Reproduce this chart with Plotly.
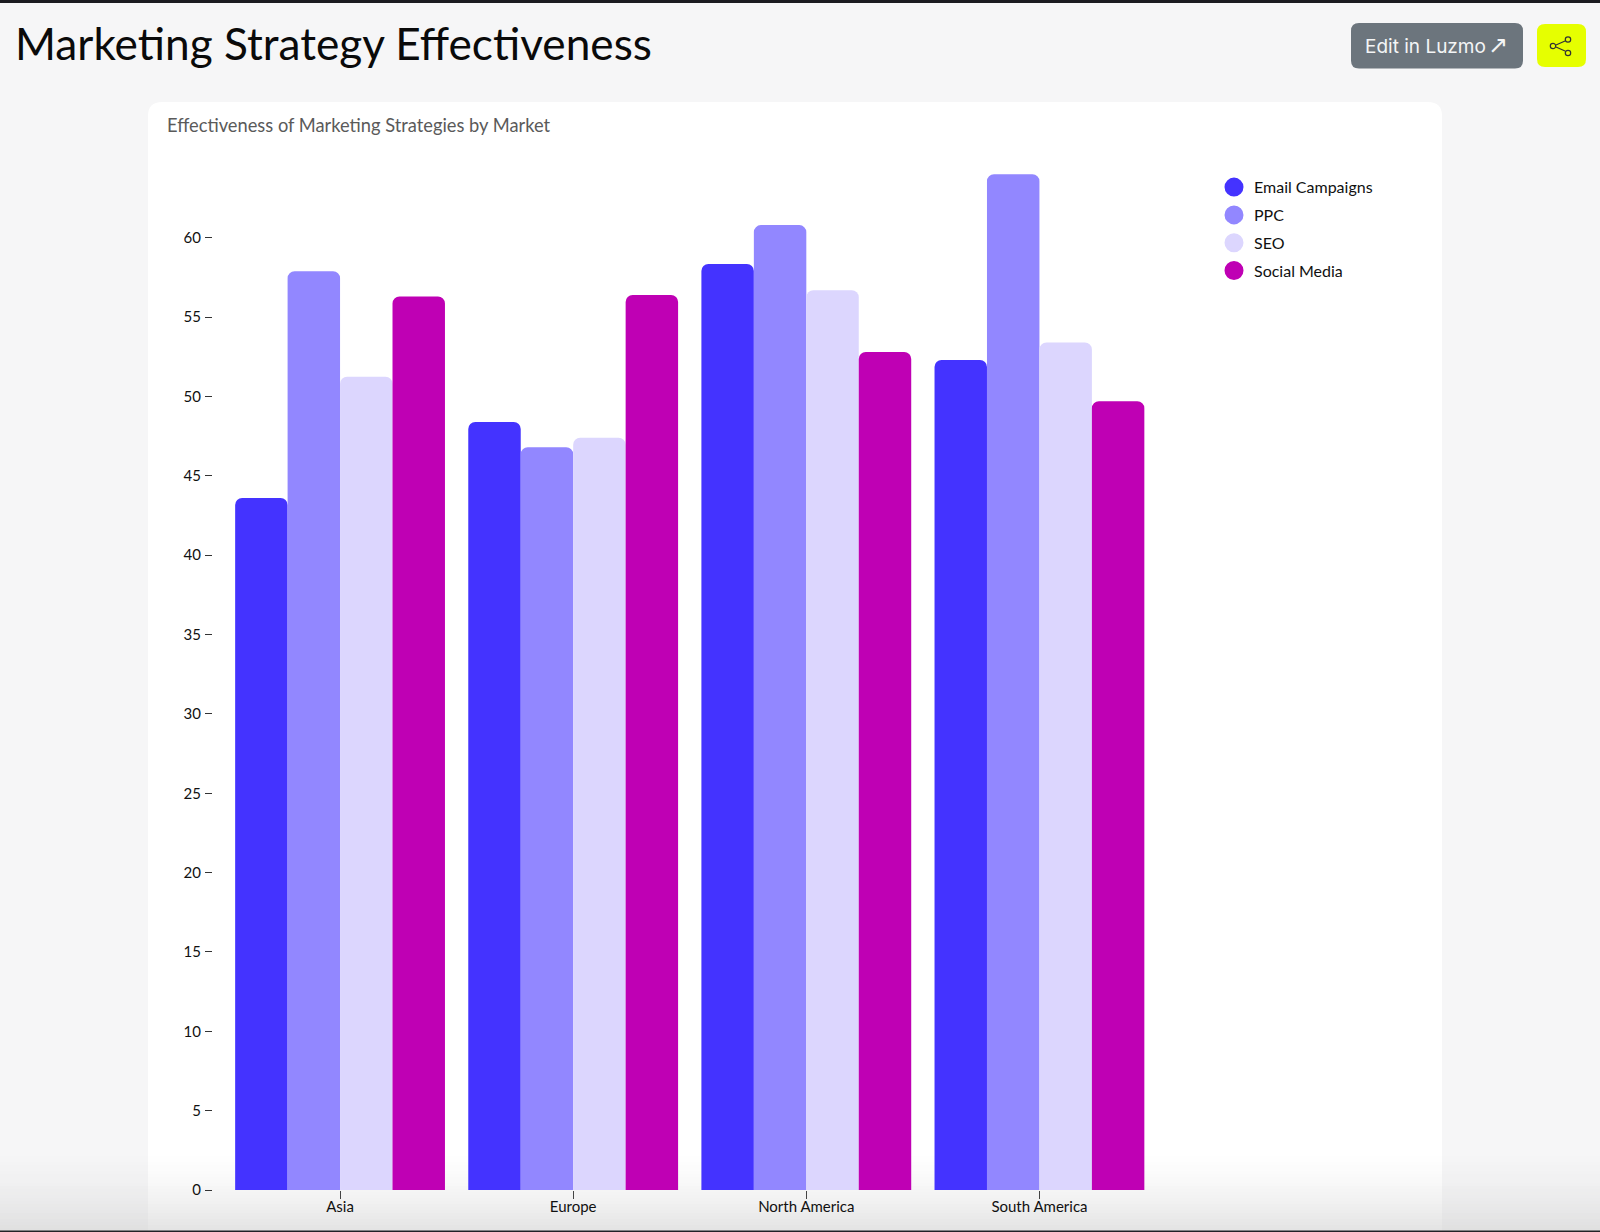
import plotly.graph_objects as go

# Chart data
markets = ["Asia", "Europe", "North America", "South America"]
email_campaigns = [43.6, 48.4, 58.35, 52.3]
ppc = [57.9, 46.8, 60.8, 64.0]
seo = [51.25, 47.4, 56.7, 53.4]
social_media = [56.3, 56.4, 52.8, 49.7]
y_ticks = list(range(0, 61, 5))

series_names = ["Email Campaigns", "PPC", "SEO", "Social Media"]
series_values = [email_campaigns, ppc, seo, social_media]
series_colors = ["#4433ff", "#9287ff", "#dcd6fe", "#bf00b4"]

WIDTH, HEIGHT = 1600, 1232


def px(x):
    return x / WIDTH


def py(y):
    return 1 - y / HEIGHT


def rounded_box(x0, y0, x1, y1, r, color, layer="below"):
    """Rounded rectangle given in page pixels."""
    path = (
        f"M{px(x0 + r)},{py(y0)} L{px(x1 - r)},{py(y0)} Q{px(x1)},{py(y0)} {px(x1)},{py(y0 + r)} "
        f"L{px(x1)},{py(y1 - r)} Q{px(x1)},{py(y1)} {px(x1 - r)},{py(y1)} "
        f"L{px(x0 + r)},{py(y1)} Q{px(x0)},{py(y1)} {px(x0)},{py(y1 - r)} "
        f"L{px(x0)},{py(y0 + r)} Q{px(x0)},{py(y0)} {px(x0 + r)},{py(y0)} Z"
    )
    return dict(type="path", xref="paper", yref="paper", path=path,
                fillcolor=color, line_width=0, layer=layer)


def page_rect(x0, y0, x1, y1, color, layer="below"):
    return dict(type="rect", xref="paper", yref="paper", x0=px(x0), x1=px(x1),
                y0=py(y1), y1=py(y0), fillcolor=color, line_width=0, layer=layer)


fig = go.Figure()

for name, values, color in zip(series_names, series_values, series_colors):
    fig.add_trace(go.Bar(name=name, x=markets, y=values, marker_color=color,
                         marker_line_width=0, showlegend=False, hoverinfo="x+y+name"))

# Round legend swatches
for name, color in zip(series_names, series_colors):
    fig.add_trace(go.Scatter(name=name, x=[None], y=[None], mode="markers", legendgroup=name,
                             marker=dict(symbol="circle", size=16, color=color,
                                         line=dict(color=color, width=3))))

shapes = [
    page_rect(0, 0, WIDTH, 3, "#1b1b20"),
    # Card
    rounded_box(148, 102, 1442, 1300, 14, "#ffffff"),
    # Action buttons
    rounded_box(1351, 23, 1523, 68.5, 8, "#6c757d"),
    rounded_box(1537, 24, 1586, 67, 8, "#e6ff00"),
]

# Share icon
for cx, cy in [(1568, 39.5), (1553, 46), (1568, 53)]:
    shapes.append(dict(type="circle", xref="paper", yref="paper",
                       x0=px(cx - 2.7), x1=px(cx + 2.7), y0=py(cy + 2.7), y1=py(cy - 2.7),
                       fillcolor="#e6ff00", line=dict(color="#333333", width=1.2)))
for cy in (41, 51):
    shapes.append(dict(type="line", xref="paper", yref="paper",
                       x0=px(1556), x1=px(1565), y0=py(46 + (cy - 46) * 0.2), y1=py(cy),
                       line=dict(color="#333333", width=1.2)))

# Fade along the bottom edge, behind the bars
fade_top, fade_bottom, steps = 1150, 1231, 27
step_h = (fade_bottom - fade_top) / steps
for i in range(steps):
    alpha = 0.55 * ((i + 1) / steps) ** 1.6
    shapes.append(page_rect(0, fade_top + i * step_h, WIDTH, fade_top + (i + 1) * step_h,
                            f"rgba(205,205,205,{alpha:.3f})"))
shapes.append(page_rect(0, 1230.6, WIDTH, HEIGHT, "#222226", layer="above"))

annotations = [
    dict(text="Marketing Strategy Effectiveness", x=px(12.5), y=py(42.5), xref="paper", yref="paper",
         xanchor="left", yanchor="middle", showarrow=False,
         font=dict(family="Lato", size=44.2, color="#0a0a0a")),
    dict(text="Effectiveness of Marketing Strategies by Market", x=px(165), y=py(125.5),
         xref="paper", yref="paper", xanchor="left", yanchor="middle", showarrow=False,
         font=dict(family="Lato", size=18.3, color="#5a5a5a")),
    dict(text="Edit in Luzmo", x=px(1363), y=py(46.5), xref="paper", yref="paper",
         xanchor="left", yanchor="middle", showarrow=False,
         font=dict(family="Inter", size=19, color="#f4f5f6")),
    dict(text="↗", x=px(1498), y=py(45), xref="paper", yref="paper",
         xanchor="center", yanchor="middle", showarrow=False,
         font=dict(family="DejaVu Sans", size=24, color="#f4f5f6")),
]

fig.update_layout(
    width=WIDTH,
    height=HEIGHT,
    margin=dict(l=0, r=0, t=0, b=0, autoexpand=False),
    paper_bgcolor="#f6f6f7",
    plot_bgcolor="rgba(0,0,0,0)",
    barmode="group",
    bargap=0.1,
    bargroupgap=0,
    barcornerradius=7,
    shapes=shapes,
    annotations=annotations,
    font=dict(family="Lato", size=15, color="#111111"),
    xaxis=dict(
        domain=[px(213), px(1156)],
        range=[-0.545, 3.5],
        type="category",
        categoryorder="array",
        categoryarray=markets,
        showgrid=False,
        zeroline=False,
        showline=False,
        ticks="outside",
        ticklen=8,
        tickwidth=1,
        tickcolor="#444444",
        ticklabelstandoff=-5,
        tickfont=dict(family="Lato", size=15, color="#111111"),
    ),
    yaxis=dict(
        domain=[py(1190), py(170)],
        range=[0, 1020 / 15.87],
        tickmode="array",
        tickvals=y_ticks,
        showgrid=False,
        zeroline=False,
        showline=False,
        ticks="outside",
        ticklen=7,
        tickwidth=1,
        tickcolor="#333333",
        ticklabelstandoff=1,
        tickfont=dict(family="Lato", size=15, color="#111111"),
    ),
    legend=dict(
        x=px(1214),
        y=py(170.2),
        xanchor="left",
        yanchor="top",
        bgcolor="rgba(0,0,0,0)",
        font=dict(family="Lato", size=16, color="#111111"),
        itemsizing="trace",
        tracegroupgap=4,
    ),
)

fig.write_html("out.html", config=dict(displayModeBar=False))
